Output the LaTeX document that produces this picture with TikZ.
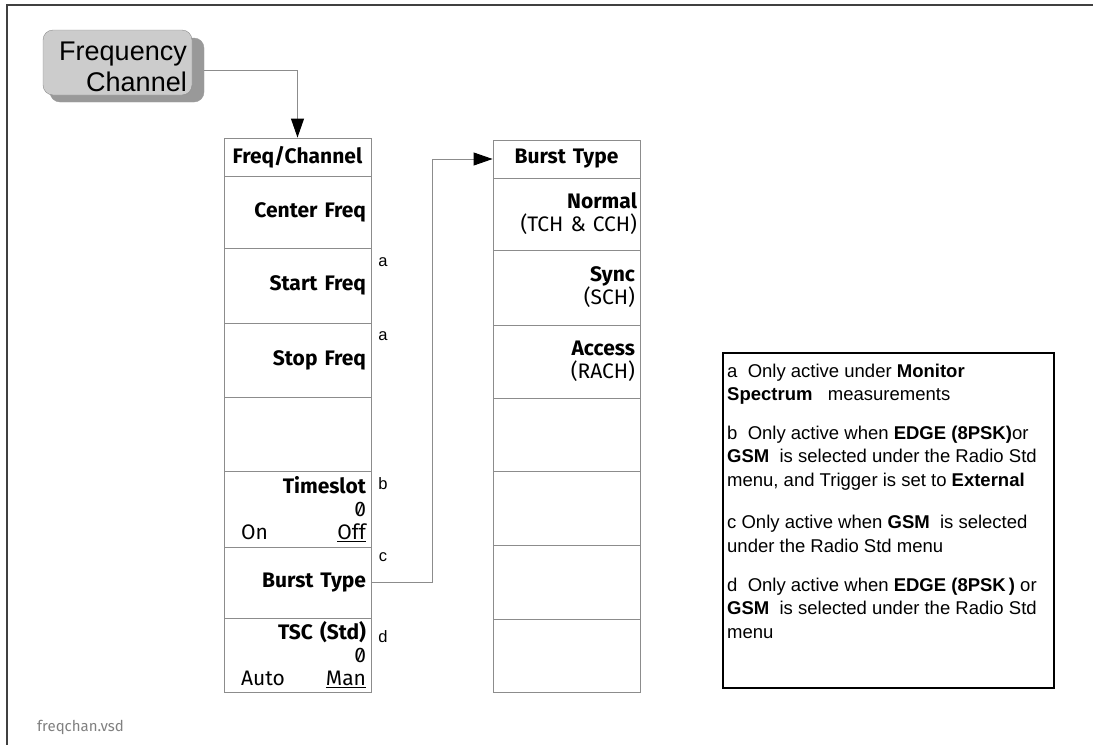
\documentclass[tikz,border=0pt]{standalone}
\usepackage{fontspec}
\setmainfont{Liberation Sans}
\newfontfamily\keyfont[RawFeature=+zero]{Fira Sans}
\usetikzlibrary{arrows.meta,positioning}

\definecolor{framegray}{HTML}{404040}
\definecolor{boxgray}{HTML}{8C8C8C}
\definecolor{keyface}{HTML}{CCCCCC}
\definecolor{keyshade}{HTML}{999999}

\tikzset{
  softkey/.style={draw=boxgray, line width=0.9pt, minimum width=147pt, inner xsep=5pt,
    text width=137pt, align=right, font=\keyfont\fontsize{21}{23}\selectfont},
  headkey/.style={softkey, minimum height=38pt, align=center, font=\keyfont\bfseries\fontsize{21}{23}\selectfont},
  tag/.style={font=\fontsize{16.5}{18}\selectfont, inner sep=0pt},
  note/.style={font=\fontsize{18.5}{23.5}\selectfont, align=left, anchor=west, inner sep=0pt},
  link/.style={draw=boxgray, line width=0.9pt, -{Triangle[length=19pt,width=13pt,black]}},
}

\begin{document}
\begin{tikzpicture}[x=1pt,y=-1pt]
  \useasboundingbox (0,0) rectangle (1093,745);
  % Frame of the page
  \draw[framegray, line width=2pt] (1093,5) -- (7,5) -- (7,745);

  % Front panel key
  \node[fill=keyshade, draw=keyshade, rounded corners=10pt, minimum width=154pt, minimum height=64pt] (keyshadow) at (127,70) {};
  \node[fill=keyface, draw=boxgray, rounded corners=10pt, minimum width=149pt, minimum height=65pt, inner sep=0pt] (freqkey) at (117.5,62.5) {};
  \node[align=right, anchor=east, inner sep=0pt, font=\fontsize{27}{31}\selectfont] (keytext) at (187,67) {Frequency\\Channel};

  % Freq/Channel menu
  \node[headkey] (fchead) at (297.5,157) {Freq/Channel};
  \node[softkey, minimum height=72pt] (fc1) at (297.5,212) {\bfseries Center Freq};
  \node[softkey, minimum height=75pt] (fc2) at (297.5,285.5) {\bfseries Start Freq};
  \node[softkey, minimum height=74pt] (fc3) at (297.5,360) {\bfseries Stop Freq};
  \node[softkey, minimum height=74pt] (fc4) at (297.5,434) {};
  \node[softkey, minimum height=76pt] (fc5) at (297.5,509) {{\bfseries Timeslot}\\0\\\makebox[137pt][s]{\hspace*{12pt}On\hfill\underline{Off}}};
  \node[softkey, minimum height=71pt] (fc6) at (297.5,582.5) {\bfseries Burst Type};
  \node[softkey, minimum height=74pt] (fc7) at (297.5,655) {{\bfseries TSC (Std)}\\0\\\makebox[137pt][s]{\hspace*{12pt}Auto\hfill\underline{Man}}};

  % Footnote marks
  \node[tag] (taga1) at (383,262) {a};
  \node[tag] (taga2) at (383,336) {a};
  \node[tag] (tagb) at (383,484) {b};
  \node[tag] (tagc) at (383,557) {c};
  \node[tag] (tagd) at (383,637) {d};

  % Burst Type menu
  \node[headkey] (bthead) at (566.5,159) {Burst Type};
  \node[softkey, minimum height=72pt, inner xsep=3pt, text width=141pt] (bt1) at (566.5,214) {{\bfseries Normal}\\(TCH \& CCH)};
  \node[softkey, minimum height=75pt] (bt2) at (566.5,287.5) {{\bfseries Sync}\\(SCH)};
  \node[softkey, minimum height=73pt] (bt3) at (566.5,361.5) {{\bfseries Access}\\(RACH)};
  \node[softkey, minimum height=73pt] (bt4) at (566.5,434.5) {};
  \node[softkey, minimum height=74pt] (bt5) at (566.5,508) {};
  \node[softkey, minimum height=74pt] (bt6) at (566.5,582) {};
  \node[softkey, minimum height=73pt] (bt7) at (566.5,655.5) {};

  % Connectors
  \draw[link] (keyshadow.east) -| (fchead.north);
  \draw[link] (fc6.east) -- ++(61,0) |- (bthead.west);

  % Notes
  \node[draw=black, line width=1.2pt, minimum width=331pt, minimum height=335pt] (notes) at (888.5,520.5) {};
  \node[note] (notea) at (727,384) {a\ \ Only active under \textbf{Monitor}\\\textbf{Spectrum}\ \ \ measurements};
  \node[note] (noteb) at (727,458) {b\ \ Only active when \textbf{EDGE (8PSK)}or\\\textbf{GSM}\ \ is selected under the Radio Std\\menu, and Trigger is set to\ \textbf{External}};
  \node[note] (notec) at (727,534) {c Only active when\ \textbf{GSM}\ \ is selected\\under the Radio Std menu};
  \node[note] (noted) at (727,608) {d\ \ Only active when\ \textbf{EDGE (8PSK\,)} or\\\textbf{GSM}\ \ is selected under the Radio Std\\menu};

  % File name
  \node[font=\keyfont\fontsize{15}{17}\selectfont, text=gray, anchor=west, inner sep=0pt] (fname) at (37,727) {freqchan.vsd};
\end{tikzpicture}
\end{document}
